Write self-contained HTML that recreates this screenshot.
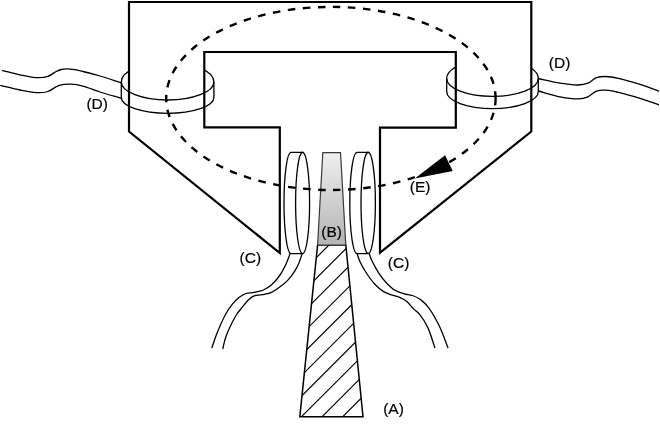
<!DOCTYPE html>
<html><head><meta charset="utf-8"><style>
html,body{margin:0;padding:0;background:#fff;width:660px;height:429px;overflow:hidden}
svg{display:block;will-change:transform}
text{font-family:"Liberation Sans",sans-serif}
</style></head><body>
<svg width="660" height="429" viewBox="0 0 660 429"><path d="M2.10,70.30 C8.07,71.80 13.98,73.58 20.00,74.80 C26.01,76.02 33.08,77.52 38.20,77.60 C41.93,77.66 44.99,77.39 47.90,76.40 C50.61,75.48 52.85,73.30 55.20,72.10 C57.26,71.05 58.91,70.03 61.20,69.50 C64.00,68.86 67.50,68.84 70.90,69.10 C74.73,69.40 78.64,70.49 83.00,71.50 C88.20,72.70 94.03,74.26 100.00,76.00 C106.75,77.96 114.27,80.53 121.40,82.80" fill="none" stroke="#000" stroke-width="1.30"/>
<path d="M0.30,85.30 C6.87,86.87 13.54,88.75 20.00,90.00 C26.16,91.19 33.08,92.64 38.20,92.70 C41.93,92.75 44.87,92.50 47.90,91.50 C50.93,90.50 53.93,87.88 56.40,86.70 C58.19,85.84 59.28,85.23 61.20,84.80 C63.83,84.21 67.50,84.04 70.90,84.20 C74.72,84.38 78.68,85.02 83.00,86.10 C88.24,87.41 93.98,90.07 100.00,92.00 C106.70,94.15 114.27,96.20 121.40,98.30" fill="none" stroke="#000" stroke-width="1.30"/>
<path d="M538.10,78.50 C545.40,80.07 553.01,82.11 560.00,83.20 C566.32,84.19 573.09,85.22 578.20,85.00 C581.95,84.84 584.88,84.40 587.90,83.20 C590.96,81.98 593.34,78.81 596.40,77.70 C599.39,76.61 602.61,76.46 606.00,76.50 C609.83,76.54 613.58,77.32 618.20,78.30 C624.46,79.63 633.02,82.16 640.00,84.40 C646.59,86.52 652.67,89.00 659.00,91.30" fill="none" stroke="#000" stroke-width="1.30"/>
<path d="M538.10,91.00 C545.40,92.93 552.99,95.47 560.00,96.80 C566.30,97.99 573.10,99.15 578.20,98.90 C581.96,98.72 584.89,98.08 587.90,96.80 C590.96,95.50 593.33,92.19 596.40,91.10 C599.38,90.04 602.62,90.07 606.00,90.20 C609.83,90.35 613.58,91.27 618.20,92.30 C624.45,93.69 633.01,96.15 640.00,98.30 C646.58,100.33 652.67,102.63 659.00,104.80" fill="none" stroke="#000" stroke-width="1.30"/>
<path d="M290.10,253.60 C288.60,257.40 287.34,261.34 285.60,265.00 C283.87,268.63 282.02,272.22 279.70,275.50 C277.36,278.82 274.50,282.31 271.60,284.80 C269.03,287.01 266.33,288.73 263.40,290.00 C260.49,291.26 257.11,291.81 254.10,292.40 C251.32,292.94 248.52,292.63 246.00,293.50 C243.49,294.37 241.23,295.88 239.00,297.60 C236.54,299.50 234.11,302.03 232.00,304.60 C229.83,307.25 228.22,309.69 226.20,313.30 C223.22,318.62 219.23,327.63 216.70,333.90 C214.65,338.99 213.43,343.30 211.80,348.00" fill="none" stroke="#000" stroke-width="1.30"/>
<path d="M302.20,253.60 C300.97,257.07 299.84,260.94 298.50,264.00 C297.38,266.55 296.41,268.42 294.90,270.80 C293.04,273.73 290.49,277.34 287.90,280.10 C285.41,282.75 282.49,285.01 279.70,287.10 C277.05,289.08 274.51,291.13 271.60,292.40 C268.71,293.66 265.32,294.11 262.30,294.70 C259.49,295.25 256.50,294.96 254.10,295.90 C251.89,296.77 250.13,298.23 248.30,299.90 C246.23,301.80 244.42,304.50 242.50,306.90 C240.52,309.37 238.37,311.80 236.60,314.50 C234.79,317.26 233.42,320.00 231.80,323.30 C229.83,327.33 227.35,332.51 225.80,337.00 C224.39,341.10 223.73,345.07 222.70,349.10" fill="none" stroke="#000" stroke-width="1.30"/>
<path d="M357.00,253.60 C358.00,256.30 358.64,258.78 360.00,261.70 C361.74,265.44 364.44,270.15 367.00,274.00 C369.48,277.73 372.22,281.50 375.10,284.50 C377.69,287.20 380.44,289.63 383.30,291.40 C385.90,293.00 388.66,293.91 391.40,294.90 C394.10,295.87 397.03,296.21 399.60,297.30 C402.09,298.36 404.39,299.54 406.60,301.30 C409.10,303.29 411.31,306.61 413.60,308.90 C415.63,310.93 417.61,312.01 419.60,314.40 C422.33,317.68 425.30,322.42 427.70,327.40 C430.56,333.35 432.57,341.13 435.00,348.00" fill="none" stroke="#000" stroke-width="1.30"/>
<path d="M369.20,253.60 C370.00,255.73 370.48,257.55 371.60,260.00 C373.24,263.58 376.00,268.84 378.60,272.80 C381.09,276.58 383.92,280.27 386.80,283.30 C389.38,286.01 391.93,288.54 394.90,290.30 C397.78,292.00 401.25,292.92 404.30,293.80 C407.07,294.60 409.75,294.58 412.40,295.50 C415.19,296.47 418.02,297.73 420.60,299.60 C423.49,301.70 426.04,304.33 428.70,307.80 C432.27,312.47 436.05,319.36 439.20,325.80 C442.57,332.70 445.13,340.60 448.10,348.00" fill="none" stroke="#000" stroke-width="1.30"/>
<polygon points="317.6,245.0 345.8,245.0 363.0,416.8 299.8,416.8" fill="#fff" stroke="none"/>
<clipPath id="rodclip"><polygon points="317.6,245.0 345.8,245.0 363.0,416.8 299.8,416.8"/></clipPath>
<path d="M94.0,480.0 L374.0,200.0 M114.6,480.0 L394.6,200.0 M135.2,480.0 L415.2,200.0 M155.8,480.0 L435.8,200.0 M176.4,480.0 L456.4,200.0 M197.0,480.0 L477.0,200.0 M217.6,480.0 L497.6,200.0 M238.2,480.0 L518.2,200.0 M258.8,480.0 L538.8,200.0 M279.4,480.0 L559.4,200.0" clip-path="url(#rodclip)" stroke="#000" stroke-width="1.15" fill="none"/>
<polygon points="317.6,245.0 345.8,245.0 363.0,416.8 299.8,416.8" fill="none" stroke="#000" stroke-width="1.50" stroke-linejoin="miter"/>
<linearGradient id="gB" x1="0" y1="0" x2="0" y2="1"><stop offset="0" stop-color="#efefef"/><stop offset="1" stop-color="#b4b4b4"/></linearGradient>
<polygon points="322.8,152.6 340.5,152.6 345.8,245.0 317.6,245.0" fill="url(#gB)" stroke="#3a3a3a" stroke-width="1.2"/>
<path d="M291.0,152.3 A7.00,50.65 0 0 0 291.0,253.6 L302.6,253.6 M291.0,152.3 L302.6,152.3" fill="none" stroke="#000" stroke-width="1.30"/><ellipse cx="302.6" cy="202.9" rx="7.00" ry="50.65" fill="none" stroke="#000" stroke-width="1.30"/>
<path d="M357.0,152.3 A7.20,50.65 0 0 0 357.0,253.6 L368.2,253.6 M357.0,152.3 L368.2,152.3" fill="none" stroke="#000" stroke-width="1.30"/><ellipse cx="368.2" cy="202.9" rx="7.20" ry="50.65" fill="none" stroke="#000" stroke-width="1.30"/>
<polygon points="129.0,2.0 531.3,2.0 531.3,131.5 380.0,252.6 380.0,127.6 455.8,127.6 455.8,52.0 204.3,52.0 204.3,127.4 279.8,127.4 279.8,253.0 129.0,131.5" fill="none" stroke="#000" stroke-width="2.20" stroke-linejoin="miter"/>
<clipPath id="clipL"><rect x="0" y="0" width="128.0" height="429"/><rect x="205.0" y="0" width="455.0" height="429"/></clipPath><path d="M121.3,82.0 A46.30,20.00 0 0 1 213.9,82.0" clip-path="url(#clipL)" fill="none" stroke="#000" stroke-width="1.30"/><path d="M121.3,82.0 A46.30,18.00 0 0 0 213.9,82.0" fill="none" stroke="#000" stroke-width="1.30"/><path d="M121.3,82.0 L121.3,97.5 A46.30,15.90 0 0 0 213.9,97.5 L213.9,82.0" fill="none" stroke="#000" stroke-width="1.30"/>
<clipPath id="clipR"><rect x="0" y="0" width="455.0" height="429"/><rect x="532.0" y="0" width="128.0" height="429"/></clipPath><path d="M446.7,78.5 A45.80,19.00 0 0 1 538.3,78.5" clip-path="url(#clipR)" fill="none" stroke="#000" stroke-width="1.30"/><path d="M446.7,78.5 A45.80,17.90 0 0 0 538.3,78.5" fill="none" stroke="#000" stroke-width="1.30"/><path d="M446.7,78.5 L446.7,91.5 A45.80,17.10 0 0 0 538.3,91.5 L538.3,78.5" fill="none" stroke="#000" stroke-width="1.30"/>
<ellipse cx="330.9" cy="98.45" rx="164.7" ry="91.55" fill="none" stroke="#000" stroke-width="2.4" stroke-dasharray="7.54 7.54" stroke-dashoffset="0.52"/>
<polygon points="414.8,178.5 445.1,155.2 452.7,171" fill="#000"/>
<g font-family="Liberation Sans, sans-serif" font-size="15.5" fill="#000" stroke="#000" stroke-width="0.2">
<text x="86.4" y="109.3">(D)</text>
<text x="548.8" y="67.7">(D)</text>
<text x="239.6" y="262.9">(C)</text>
<text x="387.8" y="267.9">(C)</text>
<text x="409.8" y="192.4">(E)</text>
<text x="321.3" y="236.8">(B)</text>
<text x="383.2" y="413.9">(A)</text>
</g></svg>
</body></html>
